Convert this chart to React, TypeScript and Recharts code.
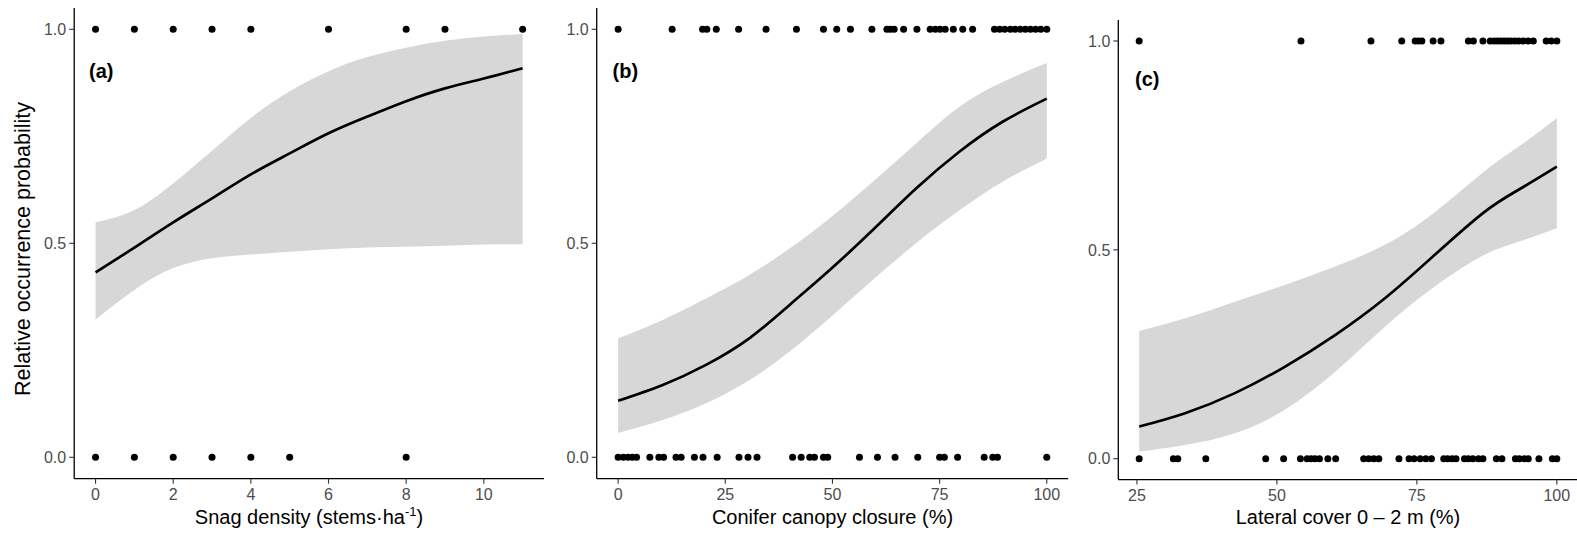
import React from 'react';
import { ComposedChart, Area, Line, Scatter, XAxis, YAxis } from 'recharts';

const FONT = '"Liberation Sans", Arial, Helvetica, sans-serif';

// ---------- Panel (a): snag density ----------
const snagX = [0, 1, 2, 3, 4, 5, 6, 7, 8, 9, 10, 11];
const snagFit = [0.432, 0.49, 0.549, 0.605, 0.661, 0.71, 0.757, 0.796, 0.832, 0.862, 0.885, 0.909];
const snagLow = [0.322, 0.391, 0.442, 0.465, 0.474, 0.48, 0.486, 0.49, 0.492, 0.494, 0.497, 0.498];
const snagHigh = [0.549, 0.578, 0.64, 0.716, 0.793, 0.855, 0.902, 0.935, 0.957, 0.973, 0.983, 0.989];
const snagPresent = [0, 1, 2, 3, 4, 6, 8, 9, 11];
const snagAbsent = [0, 1, 2, 3, 4, 5, 8];
const snagTicks = [0, 2, 4, 6, 8, 10];

// ---------- Panel (b): conifer canopy closure ----------
const canopyX = [0, 10.4, 20.5, 30.6, 40.0, 49.3, 59.4, 69.5, 79.6, 89.7, 100];
const canopyFit = [0.132, 0.169, 0.216, 0.278, 0.356, 0.437, 0.531, 0.628, 0.714, 0.784, 0.838];
const canopyLow = [0.057, 0.087, 0.126, 0.18, 0.247, 0.325, 0.414, 0.5, 0.577, 0.644, 0.698];
const canopyHigh = [0.278, 0.321, 0.371, 0.426, 0.488, 0.558, 0.644, 0.733, 0.819, 0.877, 0.921];
const canopyPresent = [
  0, 12.6, 19.7, 20.7, 22.9, 28.1, 34.5, 41.6, 47.9, 51.0, 54.2, 59.2, 62.7, 63.5, 64.4, 66.6,
  69.7, 72.8, 74.0, 75.1, 76.3, 78.2, 80.4, 82.7, 87.8, 89.0, 90.2, 91.5, 92.6, 93.8, 95.0,
  96.2, 97.4, 98.6, 100,
];
const canopyAbsent = [
  0, 1.2, 2.3, 3.3, 4.3, 7.4, 9.5, 10.6, 13.5, 14.7, 17.8, 19.8, 23.1, 28.2, 30.3, 32.4, 40.7,
  42.7, 44.7, 45.8, 47.9, 48.9, 56.3, 60.5, 64.6, 69.9, 75.0, 76.1, 79.2, 85.4, 87.4, 88.5, 100,
];
const canopyTicks = [0, 25, 50, 75, 100];

// ---------- Panel (c): lateral cover 0-2 m ----------
const coverX = [25.4, 33.6, 42.5, 51.4, 60.4, 69.3, 78.2, 87.1, 93.7, 100];
const coverFit = [0.077, 0.109, 0.157, 0.22, 0.296, 0.384, 0.488, 0.591, 0.648, 0.699];
const coverLow = [0.017, 0.033, 0.061, 0.117, 0.208, 0.316, 0.412, 0.488, 0.522, 0.552];
const coverHigh = [0.306, 0.336, 0.376, 0.416, 0.46, 0.512, 0.59, 0.688, 0.752, 0.815];
const coverPresent = [
  25.4, 54.3, 66.8, 72.3, 74.7, 75.3, 75.9, 77.9, 79.3, 84.2, 85.1, 86.8, 88.1, 88.8, 89.4,
  90.0, 90.6, 91.2, 91.8, 92.5, 93.2, 94.0, 94.9, 95.8, 98.1, 99.0, 100,
];
const coverAbsent = [
  25.4, 31.5, 32.3, 37.3, 48.0, 51.2, 54.2, 55.4, 56.1, 56.8, 57.6, 59.1, 60.5, 65.5, 66.4,
  67.3, 68.2, 71.8, 73.6, 74.5, 75.6, 76.6, 77.6, 79.8, 80.5, 81.3, 82.0, 83.5, 84.2, 85.0,
  86.0, 86.8, 89.2, 90.2, 92.6, 93.3, 94.2, 94.9, 96.8, 99.2, 100,
];
const coverTicks = [25, 50, 75, 100];

const yTicks = [0, 0.5, 1];

const buildCurve = (xs: number[], fit: number[], lo: number[], hi: number[]) =>
  xs.map((x, i) => ({ x, fit: fit[i], band: [lo[i], hi[i]] }));
const buildPts = (xs: number[], y: number) => xs.map((x) => ({ x, y }));

const Dot = (props: any) => <circle cx={props.cx} cy={props.cy} r={3.5} fill="#000" />;

type PanelProps = {
  left: number;
  width: number;
  yAxisWidth: number;
  marginRight: number;
  marginTop: number;
  xAxisHeight: number;
  xDomain: [number, number];
  xTicks: number[];
  curve: any[];
  present: any[];
  absent: any[];
};

function Panel(p: PanelProps) {
  const tickStyle = { fill: '#4d4d4d', fontSize: 16, fontFamily: FONT };
  return (
    <div style={{ position: 'absolute', left: p.left, top: 0 }}>
      <ComposedChart
        width={p.width}
        height={533}
        data={p.curve}
        margin={{ top: p.marginTop, right: p.marginRight, bottom: 0, left: 0 }}
      >
        <XAxis
          type="number"
          dataKey="x"
          domain={p.xDomain}
          ticks={p.xTicks}
          allowDataOverflow
          height={p.xAxisHeight}
          tick={tickStyle}
          tickSize={5}
          tickMargin={5}
          tickLine={{ stroke: '#333', strokeWidth: 1.1 }}
          axisLine={{ stroke: '#000', strokeWidth: 1.3 }}
        />
        <YAxis
          type="number"
          domain={[-0.05, 1.05]}
          ticks={yTicks}
          allowDataOverflow
          width={p.yAxisWidth}
          tick={tickStyle}
          tickSize={5}
          tickMargin={3}
          tickFormatter={(v: number) => v.toFixed(1)}
          tickLine={{ stroke: '#333', strokeWidth: 1.1 }}
          axisLine={{ stroke: '#000', strokeWidth: 1.3 }}
        />
        <Area
          type="natural"
          dataKey="band"
          stroke="none"
          fill="#d7d7d7"
          fillOpacity={1}
          isAnimationActive={false}
          activeDot={false}
        />
        <Line
          type="natural"
          dataKey="fit"
          stroke="#000"
          strokeWidth={2.7}
          dot={false}
          activeDot={false}
          isAnimationActive={false}
        />
        <Scatter data={p.present} dataKey="y" shape={Dot} isAnimationActive={false} />
        <Scatter data={p.absent} dataKey="y" shape={Dot} isAnimationActive={false} />
      </ComposedChart>
    </div>
  );
}

export default function App() {
  return (
    <div
      style={{
        position: 'absolute',
        left: 0,
        top: 0,
        width: 1577,
        height: 533,
        overflow: 'hidden',
        background: '#fff',
      }}
    >
      <Panel
        left={0}
        width={560}
        yAxisWidth={74.2}
        marginRight={16}
        marginTop={7.9}
        xAxisHeight={54.3}
        xDomain={[-0.55, 11.55]}
        xTicks={snagTicks}
        curve={buildCurve(snagX, snagFit, snagLow, snagHigh)}
        present={buildPts(snagPresent, 1)}
        absent={buildPts(snagAbsent, 0)}
      />
      <Panel
        left={540}
        width={540}
        yAxisWidth={56.7}
        marginRight={11.8}
        marginTop={7.9}
        xAxisHeight={54.3}
        xDomain={[-5, 105]}
        xTicks={canopyTicks}
        curve={buildCurve(canopyX, canopyFit, canopyLow, canopyHigh)}
        present={buildPts(canopyPresent, 1)}
        absent={buildPts(canopyAbsent, 0)}
      />
      <Panel
        left={1060}
        width={518}
        yAxisWidth={58.3}
        marginRight={0.3}
        marginTop={20.1}
        xAxisHeight={53.4}
        xDomain={[21.67, 103.73]}
        xTicks={coverTicks}
        curve={buildCurve(coverX, coverFit, coverLow, coverHigh)}
        present={buildPts(coverPresent, 1)}
        absent={buildPts(coverAbsent, 0)}
      />
      <svg
        width={1577}
        height={533}
        style={{ position: 'absolute', left: 0, top: 0, pointerEvents: 'none' }}
        fontFamily={FONT}
      >
        <text
          x={0}
          y={0}
          transform="translate(30,249) rotate(-90)"
          textAnchor="middle"
          fontSize={21.5}
          fill="#000"
        >
          Relative occurrence probability
        </text>
        <text x={309} y={524} textAnchor="middle" fontSize={20} fill="#000">
          Snag density (stems·ha<tspan fontSize={13} dy={-8}>-1</tspan>
          <tspan dy={8}>)</tspan>
        </text>
        <text x={832.5} y={524} textAnchor="middle" fontSize={20} fill="#000">
          Conifer canopy closure (%)
        </text>
        <text x={1348} y={524} textAnchor="middle" fontSize={20} fill="#000">
          Lateral cover 0 – 2 m (%)
        </text>
        <text x={89} y={78} fontSize={20} fontWeight="bold" fill="#000">
          (a)
        </text>
        <text x={612.5} y={78} fontSize={20} fontWeight="bold" fill="#000">
          (b)
        </text>
        <text x={1135} y={86} fontSize={20} fontWeight="bold" fill="#000">
          (c)
        </text>
      </svg>
    </div>
  );
}
